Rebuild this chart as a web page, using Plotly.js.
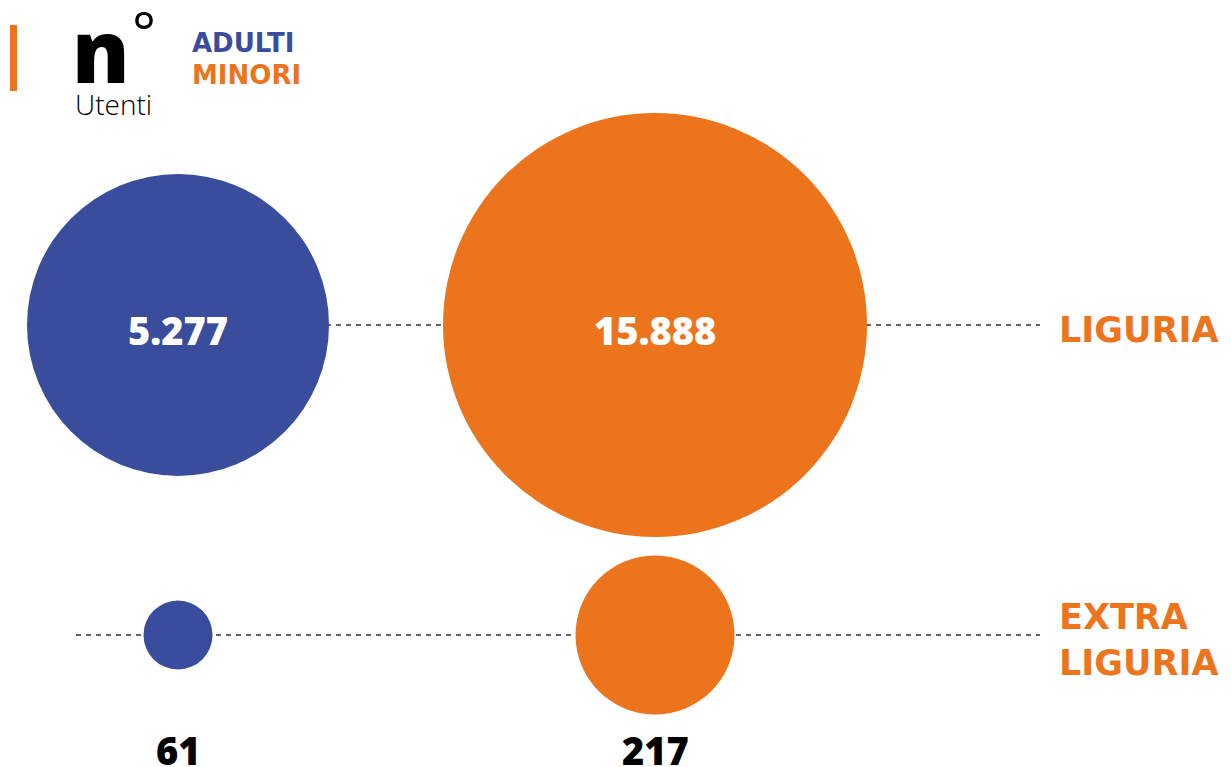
<!DOCTYPE html>
<html>
<head>
<meta charset="utf-8">
<script src="https://cdn.plot.ly/plotly-3.0.1.min.js"></script>
<style>
html,body{margin:0;padding:0;background:#fff;}
#chart{width:1231px;height:767px;}
</style>
</head>
<body>
<div id="chart"></div>
<script>
// ---- data ----
const groups = ["ADULTI", "MINORI"];
const areas = ["LIGURIA", "EXTRA LIGURIA"];
const adulti = [5277, 61];
const minori = [15888, 217];
const unitLabel = "Utenti";
const unitSymbol = "n";

// ---- styles ----
const BLUE = "#3A4C9C";
const ORANGE = "#EC741C";
const NUMFONT = "Open Sans";
const LABFONT = "DejaVu Sans";
const diam = { ADULTI: [302, 69], MINORI: [424, 159] };

function fmt(v) {
  return String(v).replace(/\B(?=(\d{3})+(?!\d))/g, ".");
}
const W = 1231, H = 767;
const px = v => v / W;
const py = v => 1 - v / H;

const series = [
  { name: groups[0], vals: adulti, color: BLUE },
  { name: groups[1], vals: minori, color: ORANGE }
];

const traces = series.map(s => ({
  type: "scatter",
  mode: "markers",
  name: s.name,
  x: areas.map(() => s.name),
  y: areas,
  marker: { color: s.color, size: diam[s.name], sizemode: "diameter", line: { width: 0 }, opacity: 1 },
  hoverinfo: "skip",
  showlegend: false
}));

const annotations = [];
series.forEach(s => {
  s.vals.forEach((v, i) => {
    const inside = i === 0;
    annotations.push({
      x: s.name, y: areas[i], xref: "x", yref: "y",
      text: fmt(v), showarrow: false,
      yshift: inside ? -5 : -115,
      font: { family: NUMFONT, size: 38, weight: 800, color: inside ? "#ffffff" : "#000000" }
    });
  });
});
// row labels
areas.forEach(a => {
  annotations.push({
    x: px(1057), xref: "paper", y: a, yref: "y", xanchor: "left",
    text: a.replace(" ", "<br>"), showarrow: false, align: "left",
    yshift: -5,
    font: { family: LABFONT, size: 35, weight: 700, color: ORANGE }
  });
});
// header
annotations.push({
  x: px(70), y: py(49), xref: "paper", yref: "paper", xanchor: "left", yanchor: "middle",
  text: unitSymbol, showarrow: false,
  font: { family: NUMFONT, size: 86, weight: 800, color: "#000" }
});
annotations.push({
  x: px(130), y: 1 + 9 / H, xref: "paper", yref: "paper", xanchor: "left", yanchor: "top",
  text: "°", showarrow: false,
  font: { family: NUMFONT, size: 56, weight: 400, color: "#000" }
});
annotations.push({
  x: px(73), y: py(104), xref: "paper", yref: "paper", xanchor: "left", yanchor: "middle",
  text: unitLabel, showarrow: false,
  font: { family: NUMFONT, size: 28, weight: 300, color: "#000" }
});
series.forEach((s, i) => {
  annotations.push({
    x: px(190), y: py(43 + i * 32), xref: "paper", yref: "paper", xanchor: "left", yanchor: "middle",
    text: s.name, showarrow: false,
    font: { family: LABFONT, size: 26, weight: 700, color: s.color }
  });
});

const shapes = areas.map((a, i) => ({
  type: "line", layer: "below",
  xref: "paper", x0: px(76), x1: px(1040),
  yref: "y", y0: i, y1: i,
  line: { color: "#333", width: 1.3, dash: "5px,5px" }
}));
shapes.push({
  type: "rect", xref: "paper", yref: "paper",
  x0: px(10), x1: px(17), y0: py(91), y1: py(25),
  fillcolor: ORANGE, line: { width: 0 }
});

const layout = {
  width: W, height: H,
  margin: { l: 0, r: 0, t: 0, b: 0 },
  paper_bgcolor: "#fff", plot_bgcolor: "#fff",
  xaxis: { type: "category", categoryorder: "array", categoryarray: groups,
           range: [-178 / 477, -178 / 477 + W / 477], visible: false, fixedrange: true },
  yaxis: { type: "category", categoryorder: "array", categoryarray: areas,
           range: [1 + 132 / 310, -325 / 310], visible: false, fixedrange: true },
  showlegend: false,
  shapes: shapes,
  annotations: annotations
};

Plotly.newPlot("chart", traces, layout, { displayModeBar: false, staticPlot: true });
</script>
</body>
</html>
